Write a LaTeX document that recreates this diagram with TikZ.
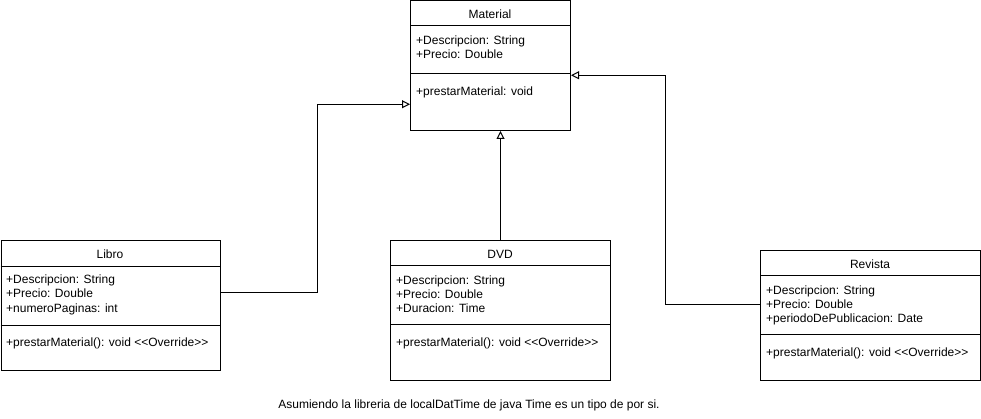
\documentclass[tikz,border=0pt]{standalone}
\usepackage{fontspec}
\setmainfont{Liberation Sans}
\usetikzlibrary{arrows.meta}
\newcommand{\ovr}{<{}<Override>{}>}
\begin{document}
\begin{tikzpicture}[x=1pt,y=-1pt,
 box/.style={draw,line width=1pt,fill=white,anchor=north west,inner sep=0pt},
 txt/.style={anchor=base west,inner sep=0pt,font=\fontsize{12}{14.4}\selectfont},
 ttl/.style={anchor=base,inner sep=0pt,font=\fontsize{12}{14.4}\selectfont},
 sepline/.style={line width=1pt},
 inh/.style={line width=1pt,-{Triangle[open,length=8pt,width=8pt]}}]
\useasboundingbox (0,0) rectangle (981,419);

% Material
\node[box,minimum width=160pt,minimum height=129.5pt] (mat) at (410,0.5) {};
\draw[sepline] (410,26) -- (570,26);
\draw[sepline] (410,74) -- (570,74);
\node[ttl] (matT) at (490,18.3) {Material};
\node[txt] (matA1) at (416,44.3) {+Descripcion: String};
\node[txt] (matA2) at (416,58.3) {+Precio: Double};
\node[txt] (matM1) at (416,95.3) {+prestarMaterial: void};

% Libro
\node[box,minimum width=219.5pt,minimum height=130pt] (lib) at (0.5,240) {};
\draw[sepline] (0.5,267) -- (220,267);
\draw[sepline] (0.5,325) -- (220,325);
\node[ttl] (libT) at (110,258.3) {Libro};
\node[txt] (libA1) at (6,283.3) {+Descripcion: String};
\node[txt] (libA2) at (6,297.8) {+Precio: Double};
\node[txt] (libA3) at (6,312.3) {+numeroPaginas: int};
\node[txt] (libM1) at (6,346.3) {+prestarMaterial(): void \ovr};

% DVD
\node[box,minimum width=220pt,minimum height=140pt] (dvd) at (390,240) {};
\draw[sepline] (390,266) -- (610,266);
\draw[sepline] (390,324) -- (610,324);
\node[ttl] (dvdT) at (500,258.3) {DVD};
\node[txt] (dvdA1) at (396,284.3) {+Descripcion: String};
\node[txt] (dvdA2) at (396,298.3) {+Precio: Double};
\node[txt] (dvdA3) at (396,312.3) {+Duracion: Time};
\node[txt] (dvdM1) at (396,346.3) {+prestarMaterial(): void \ovr};

% Revista
\node[box,minimum width=220pt,minimum height=130pt] (rev) at (760,250) {};
\draw[sepline] (760,276) -- (980,276);
\draw[sepline] (760,334) -- (980,334);
\node[ttl] (revT) at (870,268.3) {Revista};
\node[txt] (revA1) at (766,294.3) {+Descripcion: String};
\node[txt] (revA2) at (766,308.3) {+Precio: Double};
\node[txt] (revA3) at (766,322.3) {+periodoDePublicacion: Date};
\node[txt] (revM1) at (766,356.3) {+prestarMaterial(): void \ovr};

% caption
\node[ttl] (cap) at (469,408.3) {Asumiendo la libreria de localDatTime de java Time es un tipo de por si.};

% inheritance connectors
\draw[inh] ([yshift=13pt]lib.east) -- ++(96,0) |- ([yshift=-38.5pt]mat.west);
\draw[inh] (dvd.north) -- (dvd.north |- mat.south);
\draw[inh] ([yshift=11pt]rev.west) -- ++(-95,0) |- ([yshift=-9.5pt]mat.east);
\end{tikzpicture}
\end{document}
